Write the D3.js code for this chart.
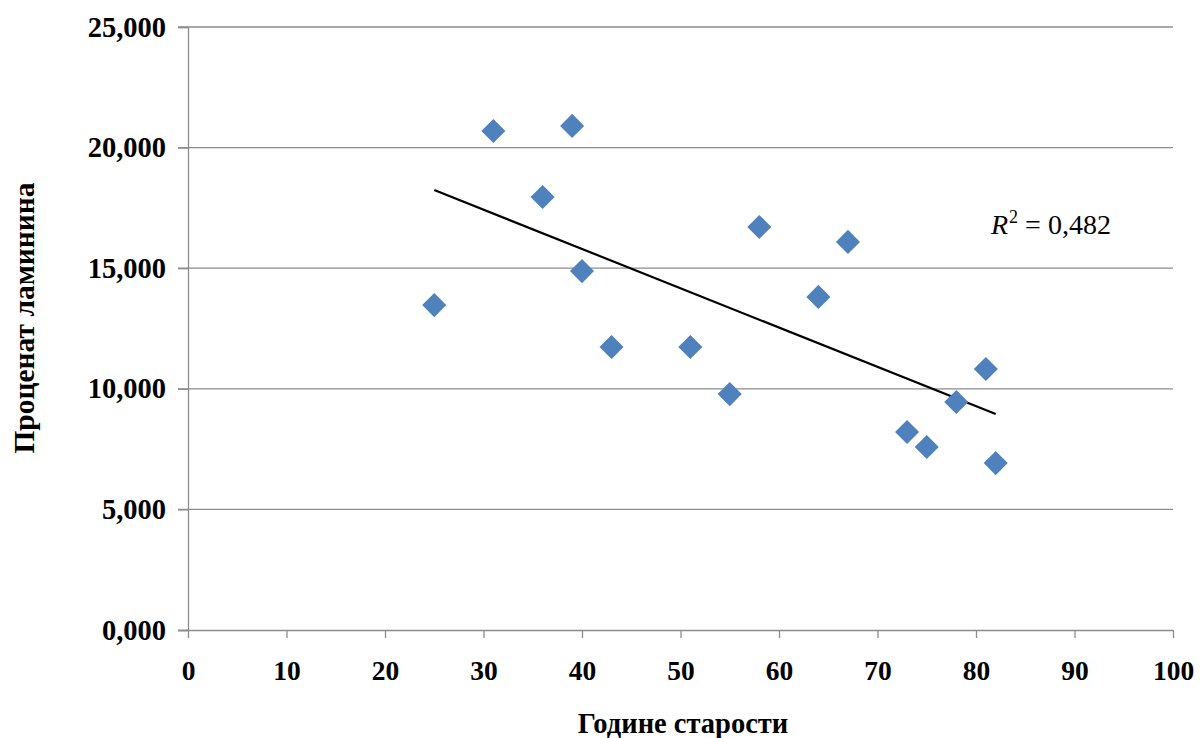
<!DOCTYPE html>
<html>
<head>
<meta charset="utf-8">
<script src="https://cdn.jsdelivr.net/npm/d3@7"></script>
<style>
  html, body { margin: 0; padding: 0; background: #fff; }
  svg { display: block; }
  text { font-family: "Liberation Serif", "Times New Roman", serif; }
</style>
</head>
<body>
<svg id="chart" width="1201" height="738"></svg>
<script>
// Age in years
const ages = [25, 31, 36, 39, 40, 43, 51, 55, 58, 64, 67, 73, 75, 78, 81, 82];
// Laminin percentage
const laminin = [13.47, 20.69, 17.95, 20.90, 14.88, 11.73, 11.73, 9.78, 16.71, 13.81, 16.09, 8.21, 7.59, 9.45, 10.82, 6.92];
const xTicks = [0, 10, 20, 30, 40, 50, 60, 70, 80, 90, 100];
const yTicks = [0, 5, 10, 15, 20, 25];
const xTitle = "Године старости";
const yTitle = "Проценат ламинина";
const r2Text = "0,482";

const svg = d3.select("#chart");
const plotLeft = 188, plotRight = 1173, plotTop = 27, plotBottom = 630;

const x = d3.scaleLinear().domain([0, 100]).range([plotLeft, plotRight]);
const y = d3.scaleLinear().domain([0, 25]).range([plotBottom, plotTop]);

const locale = d3.formatLocale({ decimal: ",", thousands: ".", grouping: [3], currency: ["", ""] });
const fmt = locale.format(".3f");

// Horizontal gridlines
svg.append("g").selectAll("line").data(yTicks.filter(d => d > 0)).join("line")
  .attr("x1", plotLeft - 10).attr("x2", plotRight)
  .attr("y1", d => y(d)).attr("y2", d => y(d))
  .attr("stroke", "#8c8c8c").attr("stroke-width", 1.3);

// Y axis
const yAxis = svg.append("g").attr("transform", `translate(${plotLeft},0)`)
  .call(d3.axisLeft(y).tickValues(yTicks).tickFormat(fmt).tickSize(10).tickPadding(12));
yAxis.select(".domain").attr("stroke", "#8c8c8c").attr("stroke-width", 1.3);
yAxis.selectAll(".tick line").attr("stroke", "#8c8c8c").attr("stroke-width", 1.3);
yAxis.selectAll("text").attr("font-size", 28.5).attr("font-weight", "bold")
  .attr("fill", "#000").style("font-family", "Liberation Serif, serif");

// X axis
const xAxis = svg.append("g").attr("transform", `translate(0,${plotBottom})`)
  .call(d3.axisBottom(x).tickValues(xTicks).tickFormat(d3.format("d")).tickSize(8).tickPadding(22));
xAxis.select(".domain").attr("stroke", "#8c8c8c").attr("stroke-width", 1.3)
  .attr("d", `M${plotLeft - 10},0.5H${plotRight}`);
xAxis.selectAll(".tick line").attr("stroke", "#8c8c8c").attr("stroke-width", 1.3);
xAxis.selectAll("text").attr("font-size", 27.5).attr("font-weight", "bold")
  .attr("fill", "#000").style("font-family", "Liberation Serif, serif");

// Linear trend line (least squares)
const mx = d3.mean(ages), my = d3.mean(laminin);
let sxy = 0, sxx = 0;
ages.forEach((a, i) => { sxy += (a - mx) * (laminin[i] - my); sxx += (a - mx) * (a - mx); });
const slope = sxy / sxx, intercept = my - slope * mx;
const [x0, x1] = d3.extent(ages);
svg.append("line")
  .attr("x1", x(x0)).attr("y1", y(intercept + slope * x0))
  .attr("x2", x(x1)).attr("y2", y(intercept + slope * x1))
  .attr("stroke", "#000").attr("stroke-width", 2.2);

// Diamond markers
const diamond = d3.symbol().type(d3.symbolSquare).size(290);
svg.append("g").selectAll("path").data(ages.map((a, i) => [a, laminin[i]])).join("path")
  .attr("d", diamond)
  .attr("transform", d => `translate(${x(d[0])},${y(d[1])}) rotate(45)`)
  .attr("fill", "#4F81BD");

// R² label
const r2 = svg.append("text").attr("x", 991).attr("y", 234)
  .attr("font-size", 28).attr("fill", "#000");
r2.append("tspan").attr("font-style", "italic").text("R");
r2.append("tspan").attr("font-size", 18).attr("dy", -11).attr("dx", 1).text("2");
r2.append("tspan").attr("dy", 11).text(" = " + r2Text);

// Axis titles
svg.append("text").attr("x", 683).attr("y", 733).attr("text-anchor", "middle")
  .attr("font-size", 28.5).attr("font-weight", "bold").text(xTitle);
svg.append("text").attr("transform", "translate(34,318) rotate(-90)").attr("text-anchor", "middle")
  .attr("font-size", 29.5).attr("font-weight", "bold").text(yTitle);
</script>
</body>
</html>
